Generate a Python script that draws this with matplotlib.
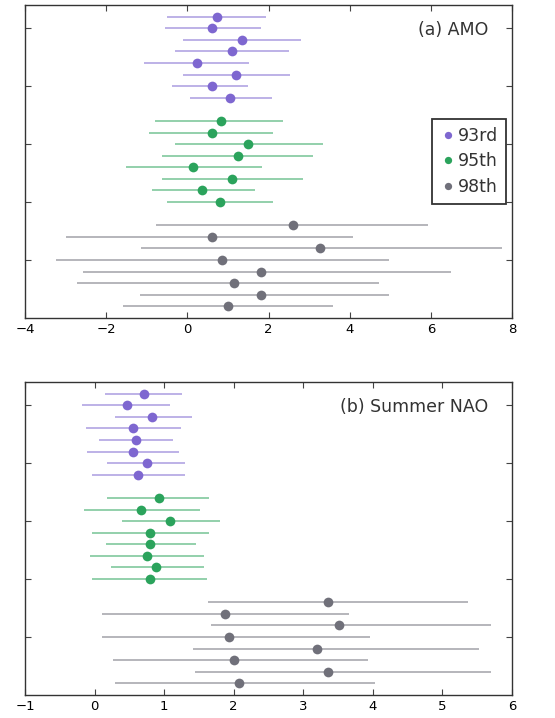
import matplotlib.pyplot as plt
import numpy as np

# Row positions (top to bottom): 93rd rows 26..19, 95th rows 17..10, 98th rows 8..1
pos_93 = np.arange(26, 18, -1)
pos_95 = np.arange(17, 9, -1)
pos_98 = np.arange(8, 0, -1)

# (a) AMO: centre, lower and upper end of each bar
amo_93 = [0.72, 0.62, 1.35, 1.11, 0.23, 1.21, 0.60, 1.05]
amo_93_lo = [-0.49, -0.55, -0.11, -0.30, -1.08, -0.11, -0.39, 0.07]
amo_93_hi = [1.95, 1.81, 2.80, 2.50, 1.53, 2.53, 1.50, 2.08]
amo_95 = [0.82, 0.62, 1.50, 1.25, 0.13, 1.11, 0.37, 0.80]
amo_95_lo = [-0.79, -0.94, -0.30, -0.63, -1.50, -0.62, -0.86, -0.49]
amo_95_hi = [2.35, 2.10, 3.35, 3.10, 1.83, 2.86, 1.66, 2.10]
amo_98 = [2.61, 0.62, 3.27, 0.85, 1.81, 1.16, 1.81, 1.00]
amo_98_lo = [-0.76, -2.99, -1.15, -3.24, -2.58, -2.71, -1.17, -1.59]
amo_98_hi = [5.92, 4.07, 7.76, 4.98, 6.49, 4.72, 4.98, 3.58]

# (b) Summer NAO
nao_93 = [0.71, 0.46, 0.83, 0.55, 0.60, 0.55, 0.76, 0.63]
nao_93_lo = [0.15, -0.18, 0.29, -0.12, 0.07, -0.11, 0.18, -0.03]
nao_93_hi = [1.26, 1.09, 1.40, 1.24, 1.13, 1.22, 1.30, 1.30]
nao_95 = [0.92, 0.67, 1.09, 0.80, 0.80, 0.75, 0.89, 0.79]
nao_95_lo = [0.18, -0.15, 0.40, -0.04, 0.17, -0.07, 0.23, -0.03]
nao_95_hi = [1.65, 1.51, 1.81, 1.64, 1.46, 1.57, 1.57, 1.62]
nao_98 = [3.36, 1.88, 3.51, 1.93, 3.20, 2.01, 3.36, 2.07]
nao_98_lo = [1.63, 0.10, 1.67, 0.10, 1.41, 0.27, 1.44, 0.29]
nao_98_hi = [5.37, 3.66, 5.70, 3.96, 5.53, 3.93, 5.70, 4.03]

labels = ['93rd', '95th', '98th']
colors = ['#7e67d0', '#2ba35c', '#70707a']

fig = plt.figure(figsize=(5.55, 7.18), dpi=100)
ax1 = fig.add_axes([25 / 555, 1 - 318 / 718, 487 / 555, 313 / 718])
ax2 = fig.add_axes([25 / 555, 1 - 695 / 718, 487 / 555, 313 / 718])


def draw(ax, groups, xlim, xticks, title, legend=False):
    for (c, lo, hi, pos), lab, col in zip(groups, labels, colors):
        c, lo, hi = np.array(c), np.array(lo), np.array(hi)
        ax.hlines(pos, lo, hi, color=col, lw=1.3, alpha=0.55)
        ax.plot(c, pos, 'o', color=col, ms=7, mec='none', label=lab)
    ax.set_xlim(*xlim)
    ax.set_ylim(0, 27)
    ax.set_xticks(xticks)
    ax.set_yticks([5, 10, 15, 20, 25])
    ax.set_yticklabels([])
    ax.tick_params(direction='in', top=True, right=True, length=4,
                   labelsize=9.5, color='#444444')
    for s in ax.spines.values():
        s.set_linewidth(1.0)
        s.set_color('#333333')
    ax.text(0.952, 0.92, title, transform=ax.transAxes, ha='right',
            va='center', fontsize=12.5, color='#333333')
    if legend:
        leg = ax.legend(loc='center right', bbox_to_anchor=(0.995, 0.5),
                        fontsize=12.5, markerscale=0.75, handletextpad=0.15,
                        borderpad=0.45, labelspacing=0.45, fancybox=False,
                        framealpha=1, handlelength=0.9, borderaxespad=0.2)
        leg.get_frame().set_edgecolor('#333333')
        leg.get_frame().set_linewidth(1.3)
        for t in leg.get_texts():
            t.set_color('#333333')


draw(ax1, [(amo_93, amo_93_lo, amo_93_hi, pos_93),
           (amo_95, amo_95_lo, amo_95_hi, pos_95),
           (amo_98, amo_98_lo, amo_98_hi, pos_98)],
     (-4, 8), [-4, -2, 0, 2, 4, 6, 8], '(a) AMO', legend=True)
draw(ax2, [(nao_93, nao_93_lo, nao_93_hi, pos_93),
           (nao_95, nao_95_lo, nao_95_hi, pos_95),
           (nao_98, nao_98_lo, nao_98_hi, pos_98)],
     (-1, 6), [-1, 0, 1, 2, 3, 4, 5, 6], '(b) Summer NAO')

fig.savefig('out.png', dpi=100)
